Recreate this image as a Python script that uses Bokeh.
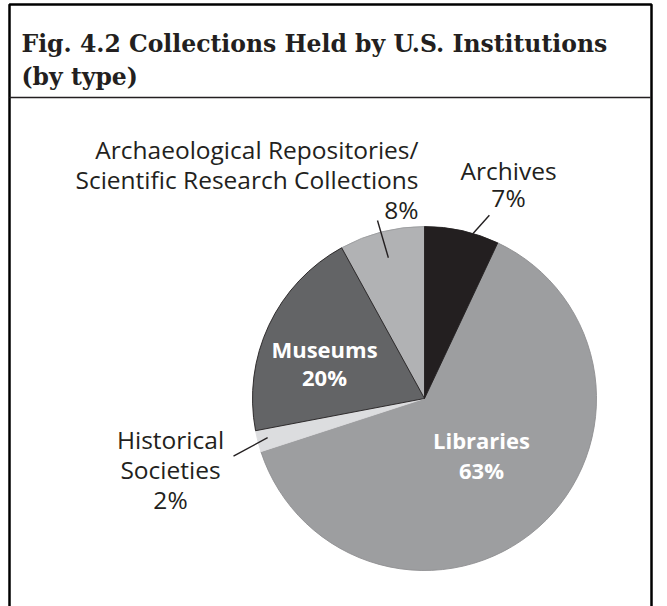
import math
from bokeh.plotting import figure
from bokeh.models import Range1d
from bokeh.core.properties import value
from bokeh.embed import file_html
from bokeh.resources import INLINE

# ---- data ----
categories = ["Archives", "Libraries", "Historical\nSocieties", "Museums",
              "Archaeological Repositories/\nScientific Research Collections"]
shares = [7, 63, 2, 20, 8]
colors = ["#231f20", "#9d9ea0", "#dcdddf", "#636466", "#b1b2b4"]
title_lines = ["Fig. 4.2 Collections Held by U.S. Institutions", "(by type)"]

# ---- layout (page pixel coordinates, y measured downwards) ----
W, H = 667, 606
CX, CY, R = 424, 398, 172
TEXT_DY = -9   # baseline correction
def Y(page_y):
    return H - page_y

label_layout = [
    dict(x=508, y=179, dy=27, align="center", color="#231f20", bold=False),
    dict(x=481, y=448, dy=30, align="center", color="#ffffff", bold=True),
    dict(x=170, y=448, dy=30, align="center", color="#231f20", bold=False),
    dict(x=324, y=357, dy=28, align="center", color="#ffffff", bold=True),
    dict(x=418, y=158, dy=30, align="right", color="#231f20", bold=False),
]
leaders = [(1.0, 3.8, 1.13, 6.9), None, (0.94, 0.4, 1.16, -2.4), None, (0.845, 0.0, 1.07, -0.4)]

p = figure(width=W, height=H, x_range=Range1d(0, W), y_range=Range1d(0, H),
           output_backend="svg", toolbar_location=None, min_border=0,
           x_axis_location=None, y_axis_location=None)
p.grid.visible = False
p.outline_line_color = None
p.background_fill_color = "white"
p.border_fill_color = "white"

# frame box
p.quad(left=[9], right=[651], top=[Y(4)], bottom=[Y(620)], fill_color=None,
       line_color="#000000", line_width=2.5)

# title
for i, t in enumerate(title_lines):
    p.text(x=[21], y=[Y(52 + 33 * i + TEXT_DY)], text=[t], text_font=value("DejaVu Serif"),
           text_font_style="bold", text_font_size="23.5px", text_color="#231f20",
           text_baseline="alphabetic", text_align="left")
p.segment(x0=[9], y0=[Y(97)], x1=[650], y1=[Y(97)], line_color="#231f20", line_width=1.3)

# pie
total = sum(shares)
cum = 0.0
starts, ends, mids = [], [], []
for s in shares:
    a = cum / total * 360.0
    b = (cum + s) / total * 360.0
    cum += s
    starts.append(math.radians(90 - b))
    ends.append(math.radians(90 - a))
    mids.append((a + b) / 2)

line_cols = ["#231f20", "#8e8f91", None, "#231f20", "#9a9b9d"]
order = [1, 2, 4, 0, 3]
for i in order:
    p.wedge(x=[CX], y=[Y(CY)], radius=R, start_angle=[starts[i]], end_angle=[ends[i]],
            direction="anticlock", fill_color=colors[i],
            line_color=line_cols[i] if line_cols[i] else colors[i], line_width=0.9)

def polar(r, cw_deg):
    a = math.radians(cw_deg)
    return CX + r * math.sin(a), Y(CY) + r * math.cos(a)

for i, ld in enumerate(leaders):
    if ld is None:
        continue
    rin, din, rout, dout = ld
    x0, y0 = polar(rin * R, mids[i] + din)
    x1, y1 = polar(rout * R, mids[i] + dout)
    p.segment(x0=[x0], y0=[y0], x1=[x1], y1=[y1], line_color="#231f20", line_width=1.4)

# labels
for i, cat in enumerate(categories):
    L = label_layout[i]
    lines = cat.split("\n") + [f"{shares[i]}%"]
    for k, line in enumerate(lines):
        p.text(x=[L["x"]], y=[Y(L["y"] + k * L["dy"] + TEXT_DY)], text=[line],
               text_font=value("Open Sans"), text_font_style="bold" if L["bold"] else "normal",
               text_font_size="22px" if L["bold"] else "24.5px", text_color=L["color"],
               text_baseline="alphabetic", text_align=L["align"])

open("out.html", "w").write(file_html(p, INLINE))
